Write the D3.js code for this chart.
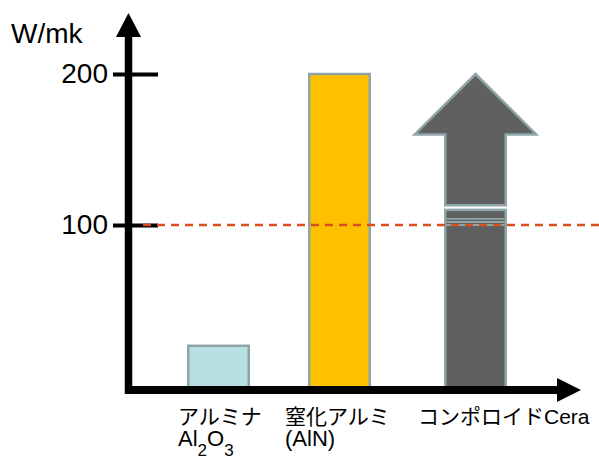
<!DOCTYPE html>
<html>
<head>
<meta charset="utf-8">
<script src="https://cdn.jsdelivr.net/npm/d3@7"></script>
<style>
  html, body { margin: 0; padding: 0; background: #fff; }
  svg { display: block; font-family: "Liberation Sans", Arial, "Noto Sans CJK JP", sans-serif; }
</style>
</head>
<body>
<svg id="chart" width="599" height="462"></svg>
<script>
// Thermal conductivity comparison (W/mK)
const categories = ["アルミナ", "窒化アルミ", "コンポロイドCera"];
const values = [20, 200, 110];                 // solid bar heights
const secondLine = [
  [["Al", false], ["2", true], ["O", false], ["3", true]],
  [["(AlN)", false]],
  []
];
const arrowTip = 200;        // where the composite arrow points
const arrowWingBase = 160;   // arrow head base
const arrowShaftBottom = 113;
const ceraStripes = [104, 102, 100];
const yTicks = [100, 200];
const referenceLine = 100;
const yLabel = "W/mk";

const svg = d3.select("#chart");

const y = d3.scaleLinear().domain([0, 200]).range([376, 74]);
const x = d3.scaleOrdinal().domain(categories).range([218.5, 339.5, 475.5]);
const labelX = d3.scaleOrdinal().domain(categories).range([178, 285, 418]);

const axisX = 128.5, axisY = 390;
const barW = 63, sw = 2.5;
const edge = "#8ea6a8";
const fills = ["#b8dfe1", "#ffc000", "#606060"];

// bars from the axis line up to their value
svg.append("g").selectAll("rect")
  .data(categories)
  .join("rect")
  .attr("x", d => x(d) - barW / 2 + sw / 2)
  .attr("width", barW - sw)
  .attr("y", (d, i) => y(values[i]))
  .attr("height", (d, i) => axisY - y(values[i]))
  .attr("fill", (d, i) => fills[i])
  .attr("stroke", edge)
  .attr("stroke-width", sw);

// stripes inside the composite bar
const cx = x(categories[2]);
svg.append("g").selectAll("line")
  .data(ceraStripes)
  .join("line")
  .attr("x1", cx - barW / 2 + sw)
  .attr("x2", cx + barW / 2 - sw)
  .attr("y1", d => y(d))
  .attr("y2", d => y(d))
  .attr("stroke", edge)
  .attr("stroke-width", 1.8);

// upward arrow above the composite bar
const sh = barW / 2 - sw / 2, wing = 62 - sw / 2;
const arrowPts = [
  [cx, y(arrowTip)],
  [cx + wing, y(arrowWingBase)],
  [cx + sh, y(arrowWingBase)],
  [cx + sh, y(arrowShaftBottom)],
  [cx - sh, y(arrowShaftBottom)],
  [cx - sh, y(arrowWingBase)],
  [cx - wing, y(arrowWingBase)]
];
svg.append("path")
  .attr("d", d3.line()(arrowPts) + "Z")
  .attr("fill", fills[2])
  .attr("stroke", edge)
  .attr("stroke-width", sw)
  .attr("stroke-linejoin", "miter");

// y ticks and labels
const yAxis = d3.axisLeft(y).tickValues(yTicks).tickSize(45).tickPadding(5).tickFormat(d3.format("d"));
const gy = svg.append("g").attr("transform", "translate(158,0)").call(yAxis);
gy.select(".domain").remove();
gy.selectAll(".tick line").attr("stroke", "#000").attr("stroke-width", 4);
gy.selectAll(".tick text").attr("fill", "#000").attr("font-size", 28)
  .attr("font-family", "'Liberation Sans', Arial, sans-serif");

// axis lines with arrow heads
svg.append("line").attr("x1", axisX).attr("x2", axisX).attr("y1", 36).attr("y2", axisY + 4)
  .attr("stroke", "#000").attr("stroke-width", 7.5);
svg.append("path").attr("d", d3.line()([[116, 37], [axisX, 13], [141, 37]]) + "Z").attr("fill", "#000");
svg.append("line").attr("x1", axisX - 3.5).attr("x2", 558).attr("y1", axisY).attr("y2", axisY)
  .attr("stroke", "#000").attr("stroke-width", 8);
svg.append("path").attr("d", d3.line()([[557, 378], [581, axisY], [557, 402]]) + "Z").attr("fill", "#000");

// reference line at 100
svg.append("line")
  .attr("x1", 143).attr("x2", 599)
  .attr("y1", y(referenceLine)).attr("y2", y(referenceLine))
  .attr("stroke", "#d4501c").attr("stroke-width", 2.5)
  .attr("stroke-dasharray", "8,6");

// unit label
svg.append("text").attr("x", 11).attr("y", 43).attr("font-size", 28).attr("fill", "#000").text(yLabel);

// category labels
const lab = svg.append("g").attr("font-size", 21).attr("fill", "#000");
lab.selectAll("text.l1").data(categories).join("text")
  .attr("class", "l1")
  .attr("x", d => labelX(d)).attr("y", 424)
  .text(d => d);
const l2 = lab.selectAll("text.l2").data(categories).join("text")
  .attr("class", "l2")
  .attr("x", d => labelX(d)).attr("y", 446)
  .attr("font-size", 22);
l2.each(function (d, i) {
  const t = d3.select(this);
  let prevSub = false;
  secondLine[i].forEach(([s, sub]) => {
    const dy = sub && !prevSub ? 10 : (!sub && prevSub ? -10 : 0);
    t.append("tspan")
      .attr("font-size", sub ? 17 : 22)
      .attr("dy", dy)
      .text(s);
    prevSub = sub;
  });
});
</script>
</body>
</html>
